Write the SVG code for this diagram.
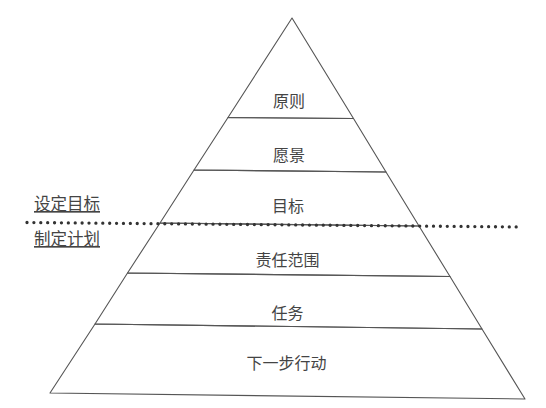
<svg xmlns="http://www.w3.org/2000/svg" width="546" height="408" viewBox="0 0 546 408">
<style>
.layer polygon{fill:none;stroke:#555;stroke-width:1.1;stroke-linejoin:round}
text{font-family:"Noto Sans CJK SC","Noto Sans",sans-serif;font-size:16px;fill:#444;text-anchor:middle}
.side{text-anchor:start;text-decoration:underline;font-size:16.5px}
.dots{stroke:#333;stroke-width:3.3;stroke-linecap:round;stroke-dasharray:0 6.89;fill:none}
</style>
<rect width="546" height="408" fill="#fff"/>
<g id="layer-principles" class="layer">
<polygon points="292,18 353.5,118.5 228,117.5"/>
<text x="289" y="107">原则</text>
</g>
<g id="layer-vision" class="layer">
<polygon points="228,117.5 353.5,118.5 386,172 194,170"/>
<text x="289" y="160.5">愿景</text>
</g>
<g id="layer-goals" class="layer">
<polygon points="194,170 386,172 419,226 160,223"/>
<text x="288" y="212">目标</text>
</g>
<g id="layer-responsibility" class="layer">
<polygon points="160,223 419,226 450,276.5 127.5,273"/>
<text x="287.5" y="265.5">责任范围</text>
</g>
<g id="layer-tasks" class="layer">
<polygon points="127.5,273 450,276.5 482,329 95,324"/>
<text x="287.5" y="318.5">任务</text>
</g>
<g id="layer-actions" class="layer">
<polygon points="95,324 482,329 525,399 50,393"/>
<text x="286.5" y="369">下一步行动</text>
</g>
<g id="connectors">
<line class="dots" x1="27" y1="222.5" x2="523" y2="227"/>
</g>
<g id="label-set-goals">
<text class="side" x="34" y="210">设定目标</text>
</g>
<g id="label-make-plan">
<text class="side" x="34" y="245">制定计划</text>
</g>
</svg>
